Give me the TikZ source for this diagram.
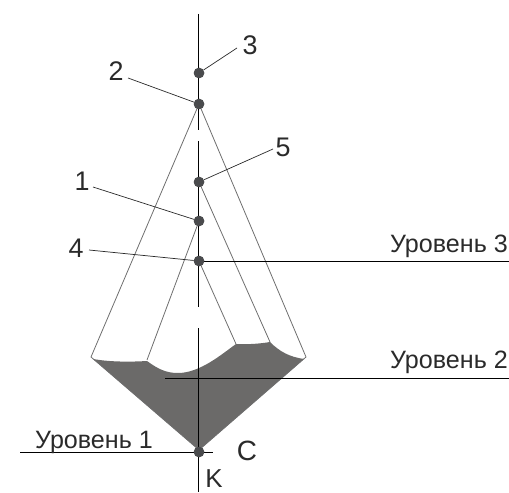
\documentclass[tikz,border=0pt]{standalone}
\usepackage{fontspec}
\setmainfont{Liberation Sans}
\definecolor{dotc}{HTML}{4A4B4D}
\definecolor{fillc}{HTML}{6B6A69}
\definecolor{linec}{HTML}{6E6E6E}
\definecolor{textc}{HTML}{2A2A2A}
\tikzset{
  pt/.style={circle,fill=dotc,inner sep=0pt,minimum size=10.5bp},
  lab/.style={inner sep=0pt,text=textc,font=\fontsize{27}{27}\selectfont},
  lev/.style={inner sep=0pt,text=textc,font=\fontsize{25.2}{26}\selectfont},
  black line/.style={draw=black,line width=0.9bp},
  ray/.style={draw=linec,line width=0.8bp},
  lead/.style={draw=textc,line width=0.7bp}
}
\begin{document}
\begin{tikzpicture}[x=1bp,y=-1bp]
\useasboundingbox (0,0) rectangle (509,493);
\coordinate (tl) at (91,357);
\coordinate (tm) at (147,360);
\coordinate (tc) at (236,344);
\coordinate (td) at (270,342);
\coordinate (tr) at (306,357);
\coordinate (bt) at (199,450);
% fill
\fill[fillc] (93,359) .. controls (110,362) and (130,362) .. (147,361)
  .. controls (158,369) and (166,373) .. (178,373)
  .. controls (200,373) and (222,354) .. (tc)
  .. controls (247,344.5) and (258,344) .. (td)
  .. controls (280,352) and (290,357) .. (304,359) -- (bt) -- cycle;
% points
\node[pt] (p3) at (199,73) {};
\node[pt] (p2) at (199,104) {};
\node[pt] (p5) at (199,182) {};
\node[pt] (p1) at (199,221) {};
\node[pt] (p4) at (199,261) {};
\node[pt] (pk) at (199,452) {};
% axis
\coordinate (a0) at (198.5,14);
\coordinate (a1) at (198.5,130);
\coordinate (a2) at (198.5,141);
\coordinate (a3) at (198.5,306.5);
\coordinate (a4) at (198.5,328);
\coordinate (a5) at (198.5,492);
\draw[black line] (a0) -- (a1) (a2) -- (a3) (a4) -- (a5);
% rays
\draw[ray] (p2.center) -- (tl) -- (bt) -- (tr) -- (p2.center) (p1.center) -- (tm) (p5.center) -- (td) (p4.center) -- (tc);
% level lines
\coordinate (l3) at (509,261);
\coordinate (l2a) at (165,378);
\coordinate (l2b) at (509,378);
\coordinate (l1a) at (20,452);
\coordinate (l1b) at (213,452);
\draw[black line] (p4.center) -- (l3) (l2a) -- (l2b) (l1a) -- (l1b);
% redraw points on top
\node[pt] at (p3) {};
\node[pt] at (p2) {};
\node[pt] at (p5) {};
\node[pt] at (p1) {};
\node[pt] at (p4) {};
\node[pt] at (pk) {};
% labels
\node[lab] (n3) at (250,45) {3};
\node[lab] (n2) at (116,71) {2};
\node[lab] (n5) at (283,147) {5};
\node[lab] (n1) at (82,181) {1};
\node[lab] (n4) at (76,248) {4};
\coordinate (e3) at (237,48);
\coordinate (e2) at (128,78);
\coordinate (e5) at (273,149);
\coordinate (e1) at (93,187);
\coordinate (e4) at (89,250);
\draw[lead] (e3) -- (p3) (e2) -- (p2) (e5) -- (p5) (e1) -- (p1) (e4) -- (p4);
\node[lev,anchor=base east] (u3) at (508,252) {Уровень 3};
\node[lev,anchor=base east] (u2) at (508,368) {Уровень 2};
\node[lev,anchor=base west] (u1) at (35,448) {Уровень 1};
\node[lab,font=\fontsize{28}{28}\selectfont] (c) at (247,451) {C};
\node[lab,font=\fontsize{26}{26}\selectfont] (k) at (214,479) {K};
\end{tikzpicture}
\end{document}
